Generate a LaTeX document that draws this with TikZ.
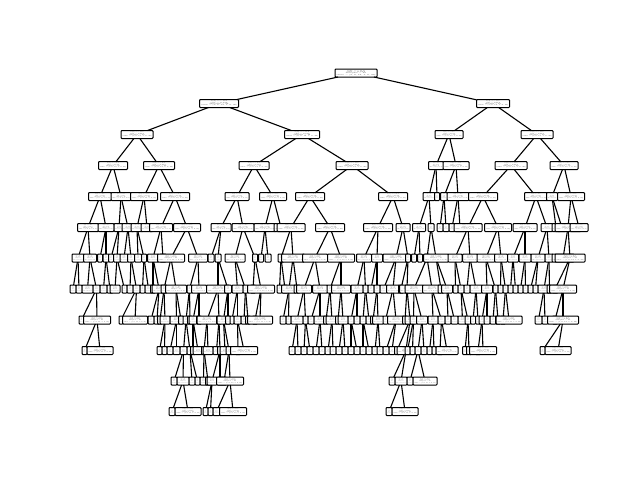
\documentclass[tikz,border=0pt]{standalone}
\usepackage{graphicx}
\tikzset{
  tbox/.style={draw=black, fill=white, rounded corners=0.8pt, line width=1pt, inner sep=0pt, outer sep=0pt, minimum height=8pt},
  tedge/.style={draw=black, line width=1.1pt}
}
\newcommand\treelbl[1]{\pgfmathsetlengthmacro\tlw{max(#1-2.6,0.8)}\resizebox{\tlw}{4.8pt}{\shortstack{x[3] <= 0.5\\gini = 0.612\\samples = 48\\value = [3, 0, 12, 7, 0, 26]}}}
\newcommand\treelevel[4]{%
  \foreach \x/\w/\p [count=\i from 0] in {#4}{%
    \node[tbox, minimum width=\w pt] (n#1-\i) at (\x,#3) {\treelbl{\w}};
    \draw[tedge] (n#2-\p) -- (n#1-\i);
  }}
\begin{document}
\begin{tikzpicture}[x=1pt,y=-1pt]
\useasboundingbox (0,0) rectangle (640,480);
\node[tbox, minimum width=42pt] (n0-0) at (356,73) {\treelbl{42}};
\treelevel{1}{0}{103.5}{219/39/0, 493/33/0}
\treelevel{2}{1}{134.5}{137/32/0, 302/35/0, 449/28/1, 537/32/1}
\treelevel{3}{2}{165.5}{113/29/0, 159/31/0, 254/30/1, 352/32/1, 436/15/2, 456/26/2, 511/32/3, 564/28/3}
\treelevel{4}{3}{196.5}{100/23/0,121/20/0,144/27/1,175/29/1,237/24/2,273/27/2,310/29/3,393/29/3,429/12/4,437/5/4,444/7/5,458/22/5,483/29/6,536/23/6,552/11/7,571/27/7}
\treelevel{5}{4}{227.5}{88/21/0,106/16/0,119/10/1,128/12/1,137/12/2,147/12/2,161/23/3,187/27/3,221/20/4,243/22/4,265/22/5,281/14/5,291/28/6,330/29/6,378/29/7,403/14/7,419/13/8,431/6/8,440/6/10,446/6/10,452/6/11,460/10/11,468/28/12,498/27/12,525/24/13,547/12/13,556/8/14,562/8/14,568/26/15,579/18/15}
\treelevel{6}{5}{258}{78/12/0,90/13/0,100/5/1,106/6/1,111/5/2,117/7/2,124/8/3,131/7/3,138/7/4,144/5/4,153/11/6,163/6/6,171/27/7,198/19/7,211/6/8,218/6/8,235/20/9,255/5/9,261/5/10,268/6/10,281/6/12,293/23/12,315/25/13,341/27/13,364/15/14,377/11/14,396/26/15,408/5/15,414/5/16,420/5/16,427/5/17,436/25/17,455/14/22,470/15/22,486/18/23,501/13/23,513/11/24,525/12/24,538/14/25,549/8/25,563/22/28,570/30/28}
\treelevel{7}{6}{289}{73/6/0,79/6/0,87.5/11/1,96.5/7/1,103.5/7/3,110/6/3,115/10/5,124.5/5/5,130/6/7,136.5/7/7,142.5/5/9,148.5/7/9,153/5/10,159/14/10,164/6/12,176/21/12,189.5/5/13,199/15/13,218/23/15,228/7/15,237.5/11/16,245.5/5/16,253/5/17,261/27/17,279.5/5/20,285/5/20,289/15/21,297/6/21,304/15/22,320/15/22,330/6/23,341/19/23,357/12/24,365.5/5/24,371/6/25,377/6/25,383.5/7/26,393/13/26,401/5/27,407/15/27,414/18/30,432/19/30,441/6/31,447/11/31,455.5/5/32,461/6/32,467/6/33,476/12/33,487/11/34,495.5/5/34,500.5/5/35,505.5/5/35,510.5/5/36,515.5/5/36,520.5/5/37,525.5/5/37,530.5/5/38,535.5/5/38,544/12/39,549.5/5/39,555/6/41,563/27/41}
\treelevel{8}{7}{320}{81.5/5/3,97/27/3,121/4/9,135/25/9,151/6/13,157/6/13,160/5/14,165/10/14,176.5/13/15,181/5/15,186/6/16,190/5/16,193/8/17,199/5/17,207/20/18,219/5/18,223.5/13/19,228/5/19,232/4/20,237.5/7/20,244/6/21,248/5/21,255/5/23,260/25/23,283/6/26,288.5/5/26,297/12/28,305.5/5/28,311/6/29,320/12/29,326/5/30,332/12/30,338/5/31,343/10/31,351/6/32,357/6/32,363/6/33,369/6/33,373/5/35,378/11/35,385.5/5/37,396/17/37,405/5/39,410/10/39,413.5/7/40,422/11/40,433/10/41,441.5/7/41,448/6/43,454.5/7/43,462.5/9/45,468/6/45,473/5/47,478/5/47,482/6/48,487/6/48,493/6/49,498/5/49,503/5/51,509/26/51,538.5/7/58,545/6/58,555/5/61,563/31/61}
\treelevel{9}{8}{350.5}{84.5/5/1,100/26/1,159.5/5/7,164.5/5/7,170/6/8,176.5/7/8,183.5/7/10,190/6/10,193/5/12,198/10/12,204/5/14,208/10/14,216.5/7/15,220/5/15,225/10/16,229/6/16,238/5/19,244/27/19,292/6/26,298/6/26,304/6/27,310/6/27,316/6/29,322/6/29,328/6/31,333/6/31,339/6/33,345/6/33,351/6/34,357/6/34,363/6/36,369/6/36,375/6/39,380/6/39,386/6/41,392/6/41,397/5/43,406/18/43,407.5/5/44,412.5/5/44,418/6/45,424/6/45,429.5/5/46,434/4/46,440/5/47,447/22/47,465/5/51,469/5/51,478/5/54,483/27/54,542.5/5/63,558/26/63}
\treelevel{10}{9}{381}{174/6/6,183/12/6,192/6/7,197.5/5/7,203.5/7/10,208/5/10,212/10/13,220/5/13,224/5/15,230/27/15,392/6/37,401/12/37,410/6/40,425/24/40}
\treelevel{11}{10}{411.5}{172/6/1,188/26/1,205.5/5/6,210.5/5/6,216.5/7/9,233/27/9,389/6/11,405/26/11}
\end{tikzpicture}
\end{document}
